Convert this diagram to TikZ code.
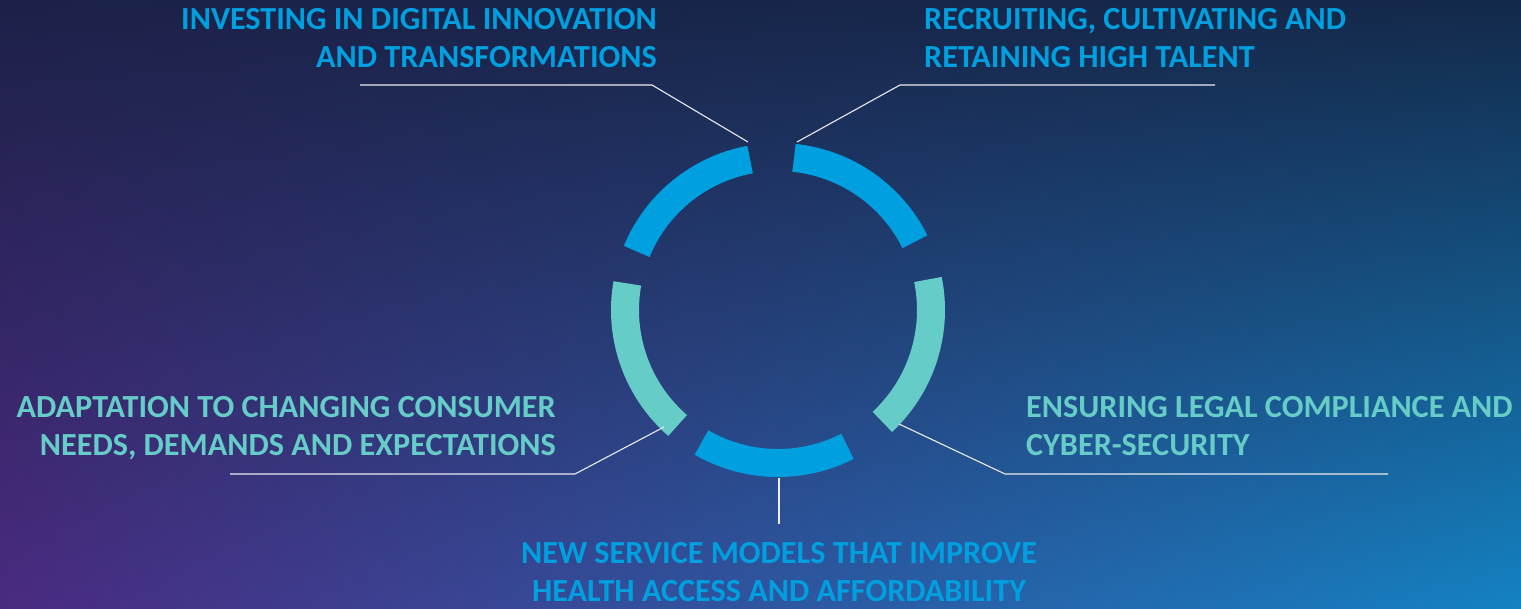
\documentclass[tikz,border=0pt]{standalone}
\usepackage{fontspec}
\setmainfont{Carlito}
\usepackage{tikz}
\usetikzlibrary{positioning,shadings}

\definecolor{ringblue}{HTML}{009FE0}
\definecolor{ringteal}{HTML}{66CCC7}
\definecolor{bgtl}{HTML}{1C2148}
\definecolor{bgtr}{HTML}{13294A}
\definecolor{bgbl}{HTML}{4A2A80}
\definecolor{bgbr}{HTML}{1482C2}

\tikzset{
	seg/.style={line width=28pt},
	lead/.style={draw=white!85!gray, line width=1.1pt},
	lbl/.style={font=\bfseries\fontsize{32.2}{38.5}\selectfont, inner sep=0pt}
}

\begin{document}
\begin{tikzpicture}[x=1pt,y=1pt]
\shade[upper left=bgtl, upper right=bgtr, lower left=bgbl, lower right=bgbr] (0,0) rectangle (1521,608);
\useasboundingbox (0,0) rectangle (1521,608);

\coordinate (c) at (778,298);
% ring segments
\draw[seg, ringblue] ([shift={(100.5:153)}]c) arc[start angle=100.5, end angle=157.5, radius=153];
\draw[seg, ringblue] ([shift={(26.5:153)}]c) arc[start angle=26.5, end angle=84, radius=153];
\draw[seg, ringteal] ([shift={(-47:153)}]c) arc[start angle=-47, end angle=11.5, radius=153];
\draw[seg, ringblue] ([shift={(240:153)}]c) arc[start angle=240, end angle=297, radius=153];
\draw[seg, ringteal] ([shift={(170:153)}]c) arc[start angle=170, end angle=229, radius=153];

% labels
\node (tl) [lbl, ringblue, align=right, anchor=north east] at (657,600) {INVESTING IN DIGITAL INNOVATION\\AND TRANSFORMATIONS};
\node (tr) [lbl, ringblue, align=left, anchor=north west] at (924,600) {RECRUITING, CULTIVATING AND\\RETAINING HIGH TALENT};
\node (lf) [lbl, ringteal, align=right, anchor=north east] at (556,212) {ADAPTATION TO CHANGING CONSUMER\\NEEDS, DEMANDS AND EXPECTATIONS};
\node (rt) [lbl, ringteal, align=left, anchor=north west] at (1026,212) {ENSURING LEGAL COMPLIANCE AND\\CYBER-SECURITY};
\node (bt) [lbl, ringblue, align=center, anchor=north, font=\bfseries\fontsize{32.2}{38}\selectfont] at (779,66) {NEW SERVICE MODELS THAT IMPROVE\\HEALTH ACCESS AND AFFORDABILITY};

% leader lines
\coordinate (tl-a) at (360,523);
\coordinate (tl-b) at (652,523);
\coordinate (tl-c) at (748,466);
\coordinate (tr-a) at (1215,523);
\coordinate (tr-b) at (900,523);
\coordinate (tr-c) at (797,466);
\coordinate (lf-a) at (230,134);
\coordinate (lf-b) at (575,134);
\coordinate (lf-c) at (664,181);
\coordinate (rt-a) at (1388,134);
\coordinate (rt-b) at (1005,134);
\coordinate (rt-c) at (899,184);
\coordinate (bt-a) at (779,84);
\coordinate (bt-c) at (779,130);
\draw[lead] (tl-a) -- (tl-b) -- (tl-c);
\draw[lead] (tr-a) -- (tr-b) -- (tr-c);
\draw[lead] (lf-a) -- (lf-b) -- (lf-c);
\draw[lead] (rt-a) -- (rt-b) -- (rt-c);
\draw[lead] (bt-a) -- (bt-c);
\end{tikzpicture}
\end{document}
